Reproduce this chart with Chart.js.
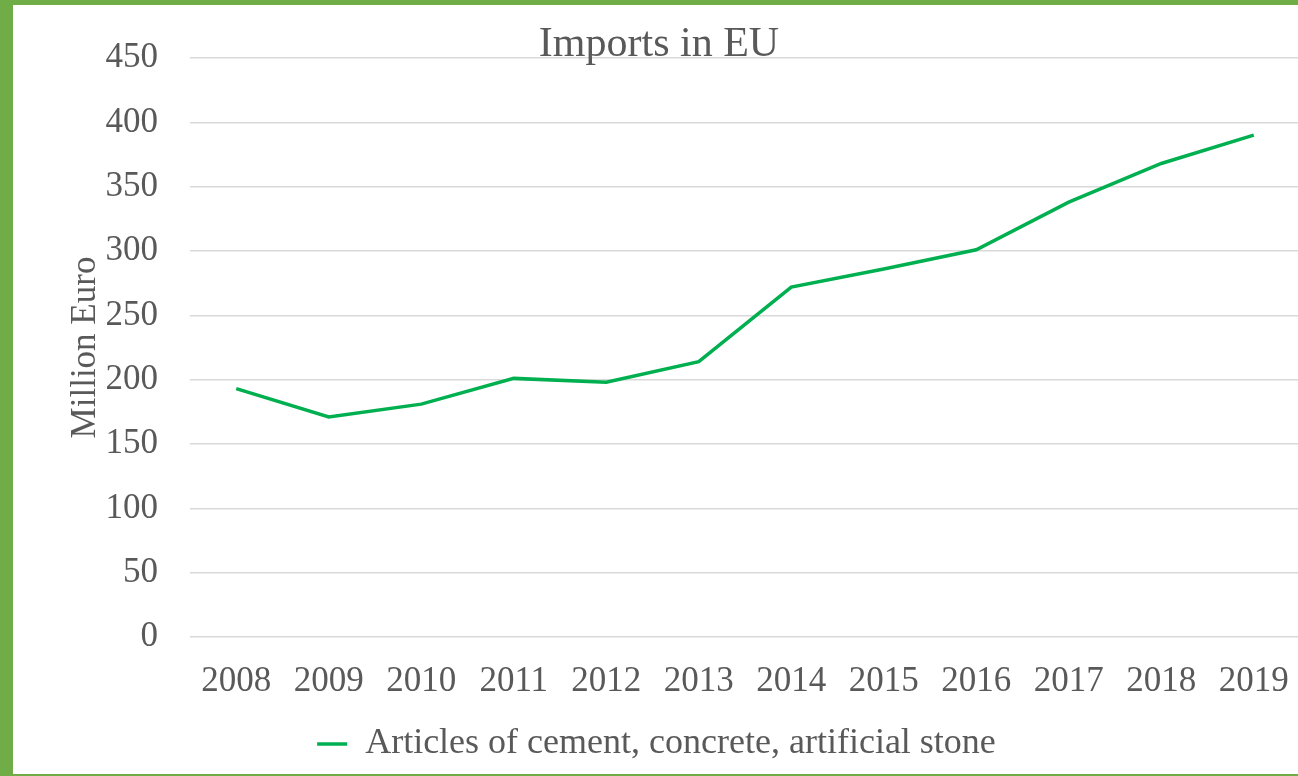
<!DOCTYPE html>
<html>
<head>
<meta charset="utf-8">
<script src="https://cdn.jsdelivr.net/npm/chart.js@4"></script>
<style>
  html, body { margin: 0; padding: 0; background: #70ad47; overflow: hidden; }
  #frame { position: absolute; left: 13px; top: 5px; width: 1285px; height: 769px; background: #fff; overflow: hidden; }
  #box { position: absolute; left: 0; top: 0; width: 1287px; height: 769px; }
</style>
</head>
<body>
<div id="frame"><div id="box"><canvas id="importsChart"></canvas></div></div>
<script>
const years = ['2008', '2009', '2010', '2011', '2012', '2013', '2014', '2015', '2016', '2017', '2018', '2019'];
const imports = [193, 171, 181, 201, 198, 214, 272, 286, 301, 338, 368, 390];
const seriesName = 'Articles of cement, concrete, artificial stone';
const chartTitle = 'Imports in EU';
const yTitle = 'Million Euro';

const serif = "'Liberation Serif', 'Times New Roman', serif";
const textColor = '#595959';

// title sits over the plot, so draw it by hand
const titlePlugin = {
    id: 'overTitle',
    afterDraw(chart) {
        const ctx = chart.ctx;
        ctx.save();
        ctx.font = '42px ' + serif;
        ctx.fillStyle = textColor;
        ctx.textAlign = 'center';
        ctx.textBaseline = 'middle';
        ctx.fillText(chartTitle, 646, 40);
        ctx.restore();
    }
};

const ctx = document.getElementById('importsChart').getContext('2d');
new Chart(ctx, {
    type: 'line',
    data: {
        labels: years,
        datasets: [{
            label: seriesName,
            data: imports,
            borderColor: '#00b050',
            backgroundColor: '#00b050',
            borderWidth: 3.5,
            pointRadius: 0,
            tension: 0,
            fill: false
        }]
    },
    options: {
        responsive: true,
        maintainAspectRatio: false,
        animation: false,
        layout: { padding: { top: 51, left: 0, right: 0, bottom: 2 } },
        plugins: {
            title: { display: false },
            tooltip: { enabled: false },
            legend: {
                position: 'bottom',
                labels: {
                    usePointStyle: true,
                    pointStyle: 'line',
                    pointStyleWidth: 30,
                    boxHeight: 3,
                    color: textColor,
                    font: { family: serif, size: 36 },
                    padding: 10
                }
            }
        },
        scales: {
            x: {
                offset: true,
                grid: { display: false, drawTicks: true, tickLength: 24 },
                border: { display: false },
                ticks: { color: textColor, font: { family: serif, size: 35 }, padding: 0, maxRotation: 0 },
                afterFit(scale) { scale.height = 79; }
            },
            y: {
                min: 0,
                max: 450,
                ticks: { stepSize: 50, color: textColor, font: { family: serif, size: 35 }, padding: 32 },
                grid: { color: '#d9d9d9', lineWidth: 1.5, drawTicks: false },
                border: { display: false },
                title: { display: true, text: yTitle, color: textColor, font: { family: serif, size: 35 }, padding: { top: 52, bottom: 0 } },
                afterFit(scale) { scale.width = 177; }
            }
        }
    },
    plugins: [titlePlugin]
});
</script>
</body>
</html>
